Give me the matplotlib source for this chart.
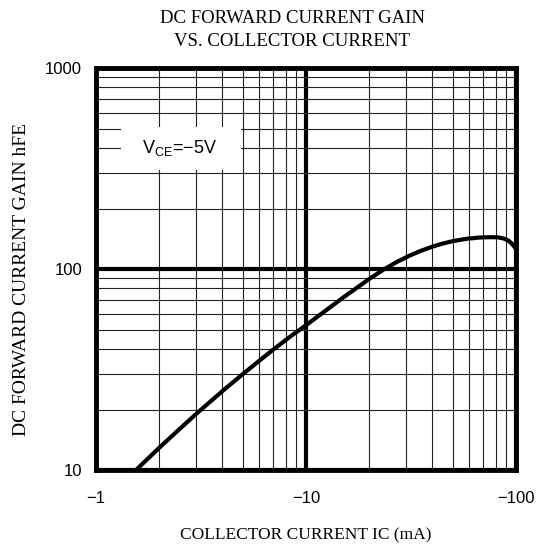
import matplotlib
matplotlib.use("Agg")
import matplotlib.pyplot as plt
from matplotlib.patches import Rectangle
from matplotlib.ticker import FixedLocator, NullFormatter, LogLocator

# data (|Ic| in mA, hFE)
ic = [1.55, 2.0, 2.5, 3.1, 4.0, 5.0, 6.0, 7.0, 8.5, 10.0, 12.0, 15.0, 20.0, 23.3,
      27.0, 31.0, 35.0, 40.0, 45.0, 50.0, 58.0, 67.0, 75.0, 82.0, 88.0, 92.0, 95.0, 97.5, 100.0]
hfe = [10.0, 12.9, 16.0, 19.6, 24.7, 30.0, 35.0, 39.8, 46.5, 52.5, 60.5, 72.0, 89.2, 99.0,
       108.2, 116.3, 122.8, 129.2, 134.0, 137.6, 141.3, 143.4, 144.0, 143.8, 141.5, 138.5, 134.5, 130.5, 126.0]
xticks = [1, 10, 100]
xticklabels = ["\u22121", "\u221210", "\u2212100"]
yticks = [10, 100, 1000]
yticklabels = ["10", "100", "1000"]

title = "DC FORWARD CURRENT GAIN\nVS. COLLECTOR CURRENT"
xlabel = "COLLECTOR CURRENT IC (mA)"
ylabel = "DC FORWARD CURRENT GAIN hFE"
note = "V$_{\\mathregular{CE}}$=\u22125V"

serif = ["Liberation Serif", "DejaVu Serif"]
sans = ["Liberation Sans", "DejaVu Sans"]

fig = plt.figure(figsize=(5.37, 5.48), dpi=100)
ax = fig.add_axes([0.1788, 0.1423, 0.782, 0.7336])
ax.set_xscale("log")
ax.set_yscale("log")
ax.set_xlim(1, 100)
ax.set_ylim(10, 1000)

ax.xaxis.set_major_locator(FixedLocator(xticks))
ax.yaxis.set_major_locator(FixedLocator(yticks))
ax.xaxis.set_minor_locator(LogLocator(base=10, subs=range(2, 10)))
ax.yaxis.set_minor_locator(LogLocator(base=10, subs=range(2, 10)))
ax.xaxis.set_minor_formatter(NullFormatter())
ax.yaxis.set_minor_formatter(NullFormatter())
ax.set_xticklabels(xticklabels, fontfamily=sans, fontsize=12)
ax.set_yticklabels(yticklabels, fontfamily=sans, fontsize=12)
ax.tick_params(which="both", length=0)
ax.tick_params(axis="x", pad=15)
ax.tick_params(axis="y", pad=10)

ax.grid(which="major", color="black", linewidth=3.0, zorder=1)
ax.grid(which="minor", color="#222222", linewidth=0.8, zorder=1)
ax.set_axisbelow(True)
for s in ax.spines.values():
    s.set_linewidth(3.5)

ax.add_patch(Rectangle((0.0595, 0.746), 0.2855, 0.107, transform=ax.transAxes,
                       facecolor="white", edgecolor="none", zorder=2))
ax.text(0.20, 0.80, note, transform=ax.transAxes, ha="center", va="center",
        fontfamily=sans, fontsize=13, zorder=3)

ax.plot(ic, hfe, color="black", linewidth=3.0, zorder=4, solid_capstyle="butt",
        solid_joinstyle="round")

fig.text(292 / 537, 1 - 30 / 548, title, ha="center", va="center", fontfamily=serif,
         fontsize=13.5, linespacing=1.5)
fig.text(306 / 537, 1 - 535 / 548, xlabel, ha="center", va="center",
         fontfamily=serif, fontsize=12.5)
fig.text(22 / 537, 1 - 279 / 548, ylabel, ha="center", va="center", rotation=90,
         fontfamily=serif, fontsize=14)

fig.savefig("out.png", dpi=100)
